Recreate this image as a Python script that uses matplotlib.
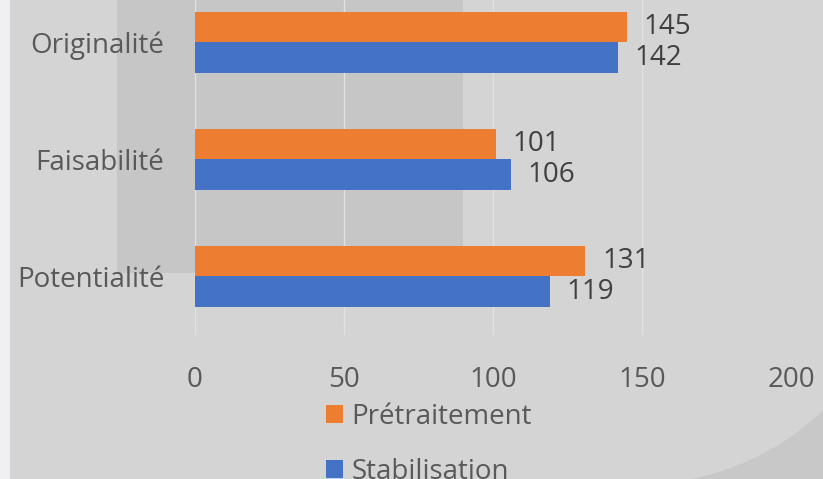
import numpy as np
import matplotlib
matplotlib.use("Agg")
import matplotlib.pyplot as plt
from matplotlib.patches import Rectangle, Polygon

# data
categories = ["Potentialité", "Faisabilité", "Originalité"]
pretraitement = [131, 101, 145]
stabilisation = [119, 106, 142]
series_names = ["Prétraitement", "Stabilisation"]
xticks = [0, 50, 100, 150, 200]

orange = "#ED7D31"
blue = "#4472C4"
txt = "#595959"
bg = "#d4d4d4"

plt.rcParams["font.family"] = ["Open Sans", "DejaVu Sans"]

W, H = 823, 479
fig = plt.figure(figsize=(W / 100, H / 100), dpi=100, facecolor=bg)


def fx(px):
    return px / W


def fy(py):
    return 1 - py / H


# background decorations (slide behind the chart)
fig.patches.append(Rectangle((0, 0), fx(10), 1, transform=fig.transFigure,
                             facecolor="#f0f0f2", edgecolor="none", zorder=-5))
fig.patches.append(Rectangle((fx(117), fy(273)), fx(463 - 117), 273 / H,
                             transform=fig.transFigure, facecolor="#c6c6c6",
                             edgecolor="none", zorder=-5))
cx, cy, r = 640, 220, 264
a0 = np.arcsin((823 - cx) / r)
ang = np.linspace(a0, 0, 50)
arc = [(fx(cx + r * np.sin(a)), fy(cy + r * np.cos(a))) for a in ang]
arc += [(fx(W + 5), fy(cy + r))]
fig.patches.append(Polygon(arc, closed=True, transform=fig.transFigure,
                           facecolor="#c8c8c8", edgecolor="none", zorder=-5))

ax = fig.add_axes([fx(195), fy(335), fx(791 - 195), 335 / H])
ax.set_facecolor("none")
ax.set_zorder(2)

y = np.arange(len(categories))
h = 0.26
b1 = ax.barh(y + h / 2, pretraitement, height=h, color=orange, label=series_names[0], zorder=3)
b2 = ax.barh(y - h / 2, stabilisation, height=h, color=blue, label=series_names[1], zorder=3)

for bars, vals in ((b1, pretraitement), (b2, stabilisation)):
    for bar, v in zip(bars, vals):
        ax.annotate(str(v), (v, bar.get_y() + bar.get_height() / 2),
                    xytext=(12, 0), textcoords="offset points",
                    va="center", ha="left", fontsize=20, color="#404040")

ax.set_xlim(0, 200)
ax.set_ylim(-0.5, 2.363)
ax.set_xticks(xticks)
ax.set_yticks(y)
ax.set_yticklabels(categories)
ax.grid(axis="x", color="#e2e2e2", linewidth=1, zorder=1)
ax.set_axisbelow(True)
for s in ax.spines.values():
    s.set_visible(False)
ax.tick_params(axis="x", length=0, pad=22, labelsize=20, labelcolor=txt)
ax.tick_params(axis="y", length=0, pad=22, labelsize=20, labelcolor=txt)

leg = fig.legend(handles=[b1, b2], labels=series_names, loc="upper left",
                 bbox_to_anchor=(fx(326), fy(403)), frameon=False, fontsize=20,
                 labelcolor=txt, handlelength=0.62, handleheight=0.62,
                 handletextpad=0.3, labelspacing=0.98, borderpad=0, borderaxespad=0)
leg.set_zorder(3)

fig.savefig("out.png", dpi=100, facecolor=bg)
